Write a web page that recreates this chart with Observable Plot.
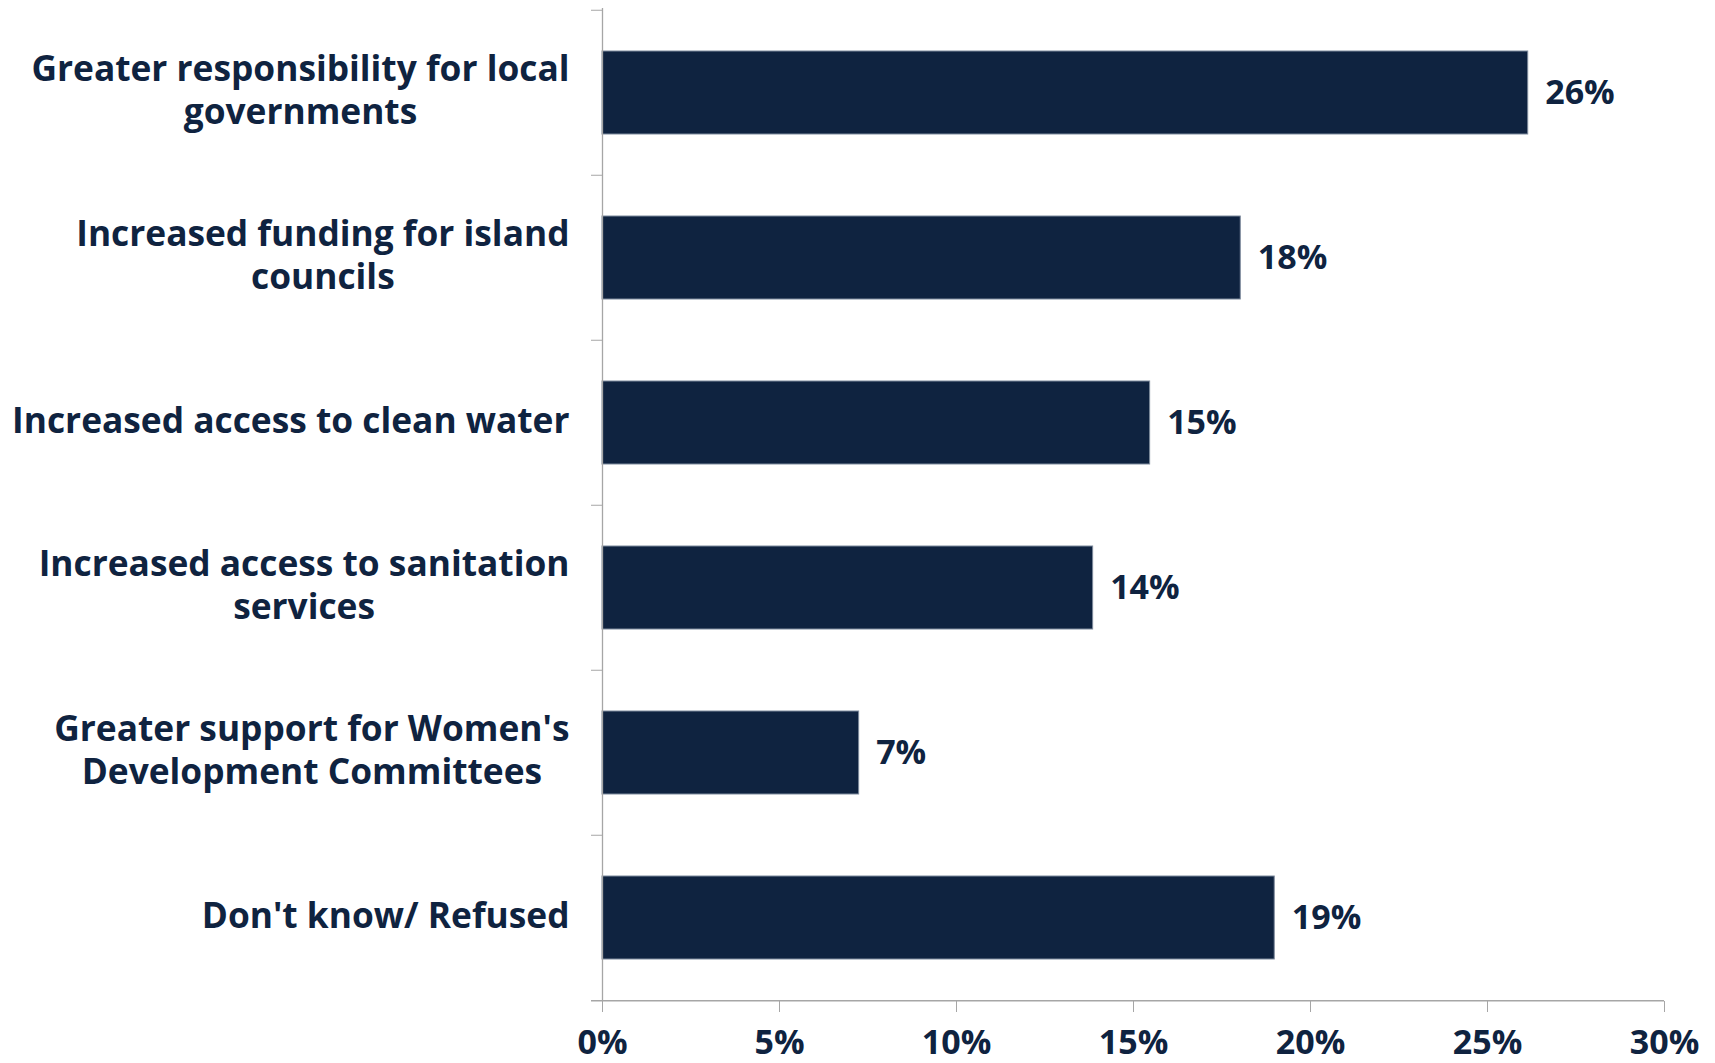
<!DOCTYPE html>
<html>
<head>
<meta charset="utf-8">
<script src="https://cdn.jsdelivr.net/npm/d3@7"></script>
<script src="https://cdn.jsdelivr.net/npm/@observablehq/plot@0.6"></script>
<style>
  html, body { margin: 0; padding: 0; background: #ffffff; }
  #chart { width: 1715px; height: 1063px; }
</style>
</head>
<body>
<div id="chart"></div>
<script>
const categories = [
  "Greater responsibility for local\ngovernments",
  "Increased funding for island\ncouncils",
  "Increased access to clean water",
  "Increased access to sanitation\nservices",
  "Greater support for Women's\nDevelopment Committees",
  "Don't know/ Refused"
];
const values = [26.15, 18.03, 15.47, 13.86, 7.25, 18.99];
const valueLabels = ["26%", "18%", "15%", "14%", "7%", "19%"];
const xTicks = [0, 5, 10, 15, 20, 25, 30];

const W = 1715, H = 1063;
const mLeft = 602, mRight = 51, mTop = 8, mBottom = 62;
const FONT = "Open Sans";
const FS = 34;      // value and tick labels
const FSC = 35.3;   // category labels
const navy = "#0f2340";
const gray = "#a6a6a6";
const step = (H - mTop - mBottom) / categories.length;

const data = categories.map((c, i) => ({cat: c, value: values[i], label: valueLabels[i]}));

// measure label widths so that lines of a label are centred on each other
const ctx = document.createElement("canvas").getContext("2d");
ctx.font = `bold ${FSC}px "${FONT}"`;
const labelGap = 33;
const catAxes = categories.map(c => {
  const w = d3.max(c.split("\n"), s => ctx.measureText(s).width);
  return Plot.axisY({
    ticks: [c],
    tickSize: 0,
    tickPadding: 0,
    textAnchor: "middle",
    dx: -(labelGap + w / 2),
    dy: -4,
    lineHeight: 42.5 / FSC,
    fontSize: FSC,
    fontWeight: "bold",
    fill: navy,
    label: null
  });
});

const chart = Plot.plot({
  width: W,
  height: H,
  marginLeft: mLeft,
  marginRight: mRight,
  marginTop: mTop,
  marginBottom: mBottom,
  style: {fontFamily: `"${FONT}"`, fontSize: FS + "px", color: navy, background: "#ffffff"},
  x: {domain: [0, 30]},
  y: {domain: categories, paddingInner: 0.5, paddingOuter: 0.25, label: null},
  marks: [
    Plot.barX(data, {x: "value", y: "cat", fill: navy, stroke: "#7d8a9c", strokeWidth: 1}),
    Plot.ruleX([0], {stroke: gray, strokeWidth: 1.3}),
    // boundary ticks on the category axis
    Plot.axisY({ticks: categories, tickSize: 11, tickFormat: () => "", dy: -step / 2, stroke: gray, label: null}),
    // bottom axis line, extended left like the last boundary tick
    Plot.tickY(categories.slice(-1), {dy: step / 2, insetLeft: -11, stroke: gray, strokeWidth: 1.3}),
    Plot.axisX({
      ticks: xTicks,
      tickFormat: d => d + "%",
      tickSize: 11,
      tickPadding: 17,
      stroke: gray,
      fill: navy,
      fontSize: FS,
      fontWeight: "bold",
      label: null
    }),
    ...catAxes,
    Plot.text(data, {
      x: "value", y: "cat", text: "label",
      textAnchor: "start", dx: 17,
      fontSize: FS, fontWeight: "bold", fill: navy
    })
  ]
});
document.getElementById("chart").appendChild(chart);
</script>
</body>
</html>
